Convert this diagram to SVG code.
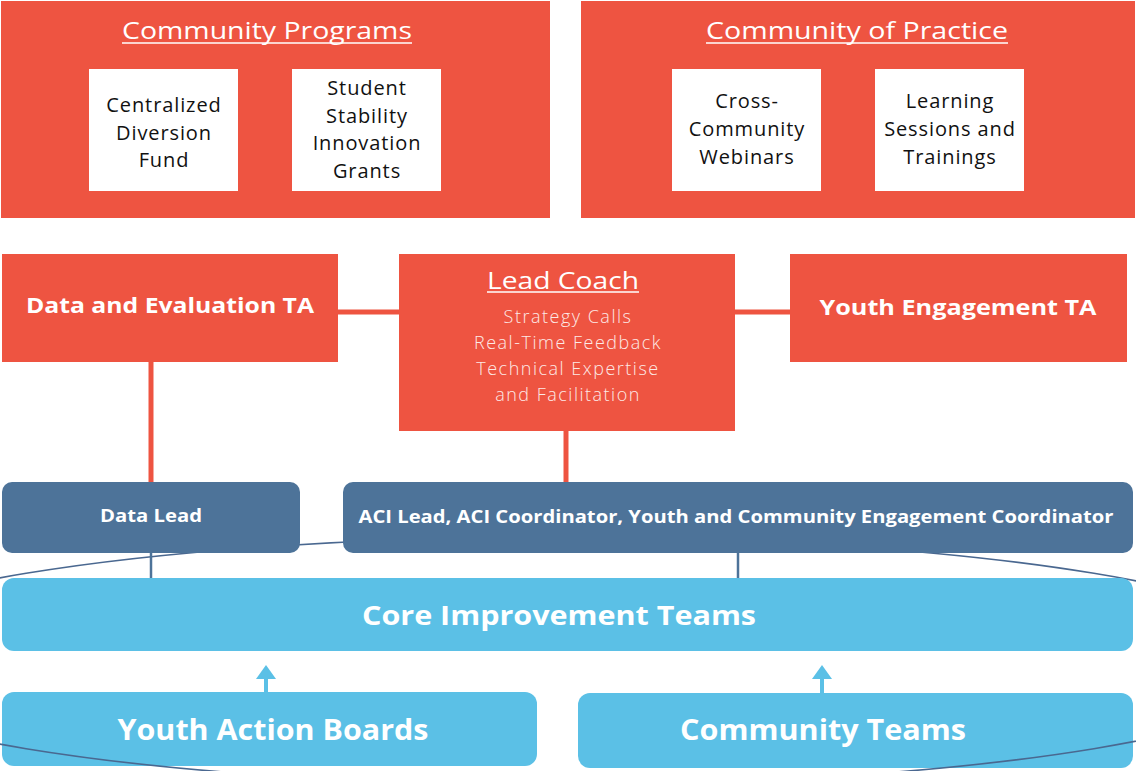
<svg xmlns="http://www.w3.org/2000/svg" width="1136" height="771" viewBox="0 0 1136 771">
<style>
.red{fill:#ee5441}
.wbox{fill:#ffffff}
.dark{fill:#4d7399}
.light{fill:#5bc0e6}
text{font-family:"Open Sans","Liberation Sans",sans-serif;text-anchor:middle}
.title{fill:#ffffff;font-size:23px}
.inner{fill:#111111;font-size:20px;letter-spacing:0.9px}
.bold{fill:#ffffff;font-weight:700}
.thin{fill:#fde9e6;font-size:18px;font-weight:300;letter-spacing:1.5px}
.ul{stroke:#ffffff;stroke-width:1.6}
.rc{stroke:#ee5441;stroke-width:5;fill:none}
.bc{stroke:#4d7399;stroke-width:2.5;fill:none}
.arrow{stroke:#5bc0e6;stroke-width:4;fill:none}
</style>
<defs>
<marker id="ah" viewBox="0 0 14 20" refX="0" refY="10" markerWidth="3.5" markerHeight="5" orient="auto" markerUnits="strokeWidth">
<path d="M0,0 L14,10 L0,20 z" fill="#5bc0e6"/>
</marker>
</defs>
<rect width="1136" height="771" fill="#ffffff"/>

<g id="youth-action-boards">
<rect class="light" x="2" y="692" width="535" height="74" rx="12"/>
<text class="bold" x="273" y="740" font-size="28" textLength="311" lengthAdjust="spacingAndGlyphs">Youth Action Boards</text>
</g>
<g id="community-teams">
<rect class="light" x="578" y="693" width="555" height="75" rx="12"/>
<text class="bold" x="823" y="740" font-size="28" textLength="286" lengthAdjust="spacingAndGlyphs">Community Teams</text>
</g>

<ellipse cx="560" cy="661" rx="755" ry="124" fill="none" stroke="#4a6890" stroke-width="1.6"/>

<g id="connectors">
<line class="rc" x1="338" y1="312" x2="399" y2="312"/>
<line class="rc" x1="735" y1="312" x2="790" y2="312"/>
<line class="rc" x1="151" y1="362" x2="151" y2="483"/>
<line class="rc" x1="566" y1="431" x2="566" y2="483"/>
<line class="bc" x1="151" y1="552" x2="151" y2="579"/>
<line class="bc" x1="738" y1="552" x2="738" y2="579"/>
<line class="arrow" x1="266" y1="692" x2="266" y2="679" marker-end="url(#ah)"/>
<line class="arrow" x1="822" y1="693" x2="822" y2="679" marker-end="url(#ah)"/>
</g>

<g id="community-programs">
<rect class="red" x="1" y="1" width="549" height="217"/>
<text class="title" x="267" y="39" textLength="290" lengthAdjust="spacingAndGlyphs">Community Programs</text>
<line class="ul" x1="122" y1="43" x2="412" y2="43"/>
</g>
<g id="centralized-diversion-fund">
<rect class="wbox" x="89" y="69" width="149" height="122"/>
<text class="inner" x="164" y="112">Centralized</text>
<text class="inner" x="164" y="140">Diversion</text>
<text class="inner" x="164" y="167">Fund</text>
</g>
<g id="student-stability-innovation-grants">
<rect class="wbox" x="292" y="69" width="149" height="122"/>
<text class="inner" x="367" y="95">Student</text>
<text class="inner" x="367" y="123">Stability</text>
<text class="inner" x="367" y="150">Innovation</text>
<text class="inner" x="367" y="178">Grants</text>
</g>

<g id="community-of-practice">
<rect class="red" x="581" y="1" width="554" height="217"/>
<text class="title" x="857" y="39" textLength="302" lengthAdjust="spacingAndGlyphs">Community of Practice</text>
<line class="ul" x1="706" y1="43" x2="1008" y2="43"/>
</g>
<g id="cross-community-webinars">
<rect class="wbox" x="672" y="69" width="149" height="122"/>
<text class="inner" x="747" y="108">Cross-</text>
<text class="inner" x="747" y="136">Community</text>
<text class="inner" x="747" y="164">Webinars</text>
</g>
<g id="learning-sessions">
<rect class="wbox" x="875" y="69" width="149" height="122"/>
<text class="inner" x="950" y="108">Learning</text>
<text class="inner" x="950" y="136">Sessions and</text>
<text class="inner" x="950" y="164">Trainings</text>
</g>

<g id="data-evaluation-ta">
<rect class="red" x="2" y="254" width="336" height="108"/>
<text class="bold" x="170" y="313" font-size="22" textLength="288" lengthAdjust="spacingAndGlyphs">Data and Evaluation TA</text>
</g>
<g id="lead-coach">
<rect class="red" x="399" y="254" width="336" height="177"/>
<text class="title" x="563" y="289" font-size="25" textLength="152" lengthAdjust="spacingAndGlyphs">Lead Coach</text>
<line class="ul" x1="487" y1="292" x2="639" y2="292"/>
<text class="thin" x="568" y="323">Strategy Calls</text>
<text class="thin" x="568" y="349">Real-Time Feedback</text>
<text class="thin" x="568" y="375">Technical Expertise</text>
<text class="thin" x="568" y="401">and Facilitation</text>
</g>
<g id="youth-engagement-ta">
<rect class="red" x="790" y="254" width="337" height="108"/>
<text class="bold" x="958" y="315" font-size="22" textLength="277" lengthAdjust="spacingAndGlyphs">Youth Engagement TA</text>
</g>

<g id="data-lead">
<rect class="dark" x="2" y="482" width="298" height="71" rx="10"/>
<text class="bold" x="151" y="522" font-size="17" textLength="102" lengthAdjust="spacingAndGlyphs">Data Lead</text>
</g>
<g id="aci-lead">
<rect class="dark" x="343" y="482" width="790" height="71" rx="10"/>
<text class="bold" x="736" y="523" font-size="17" textLength="755" lengthAdjust="spacingAndGlyphs">ACI Lead, ACI Coordinator, Youth and Community Engagement Coordinator</text>
</g>
<g id="core-improvement-teams">
<rect class="light" x="2" y="578" width="1131" height="73" rx="12"/>
<text class="bold" x="559" y="625" font-size="27" textLength="394" lengthAdjust="spacingAndGlyphs">Core Improvement Teams</text>
</g>
</svg>
